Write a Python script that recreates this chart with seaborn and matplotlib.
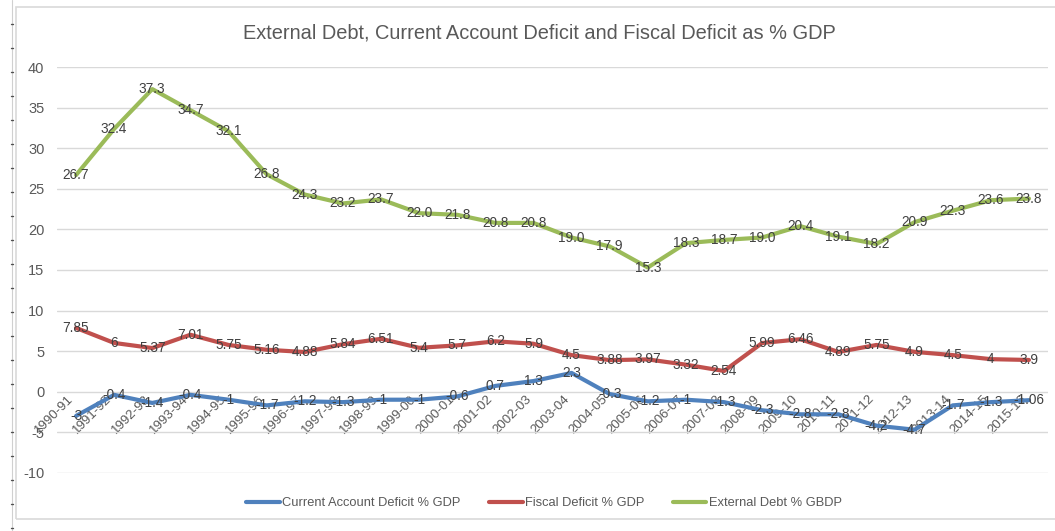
import matplotlib
matplotlib.use("Agg")
import matplotlib.pyplot as plt
from matplotlib.patches import Rectangle
from matplotlib.lines import Line2D
import seaborn as sns
import pandas as pd

# Fiscal years
years = ["1990-91", "1991-92", "1992-93", "1993-94", "1994-95", "1995-96",
         "1996-97", "1997-98", "1998-99", "1999-00", "2000-01", "2001-02",
         "2002-03", "2003-04", "2004-05", "2005-06", "2006-07", "2007-08",
         "2008-09", "2009-10", "2010-11", "2011-12", "2012-13", "2013-14",
         "2014-15", "2015-16"]

current_account = [-3, -0.4, -1.4, -0.4, -1, -1.7, -1.2, -1.3, -1, -1, -0.6,
                   0.7, 1.3, 2.3, -0.3, -1.2, -1, -1.3, -2.3, -2.8, -2.8,
                   -4.2, -4.7, -1.7, -1.3, -1.06]
current_account_labels = ["-3", "-0.4", "-1.4", "-0.4", "-1", "-1.7", "-1.2",
                          "-1.3", "-1", "-1", "-0.6", "0.7", "1.3", "2.3",
                          "-0.3", "-1.2", "-1", "-1.3", "-2.3", "-2.8", "-2.8",
                          "-4.2", "-4.7", "-1.7", "-1.3", "-1.06"]

fiscal = [7.85, 6, 5.37, 7.01, 5.75, 5.16, 4.88, 5.84, 6.51, 5.4, 5.7, 6.2,
          5.9, 4.5, 3.88, 3.97, 3.32, 2.54, 5.99, 6.46, 4.89, 5.75, 4.9, 4.5,
          4, 3.9]
fiscal_labels = ["7.85", "6", "5.37", "7.01", "5.75", "5.16", "4.88", "5.84",
                 "6.51", "5.4", "5.7", "6.2", "5.9", "4.5", "3.88", "3.97",
                 "3.32", "2.54", "5.99", "6.46", "4.89", "5.75", "4.9", "4.5",
                 "4", "3.9"]

external_debt = [26.7, 32.4, 37.3, 34.7, 32.1, 26.8, 24.3, 23.2, 23.7, 22.0,
                 21.8, 20.8, 20.8, 19.0, 17.9, 15.3, 18.3, 18.7, 19.0, 20.4,
                 19.1, 18.2, 20.9, 22.3, 23.6, 23.8]
external_debt_labels = [f"{v:.1f}" for v in external_debt]

series_names = ["Current Account Deficit % GDP", "Fiscal Deficit % GDP",
                "External Debt % GBDP"]
series_colors = ["#4F81BD", "#C0504D", "#9BBB59"]
y_ticks = [-10, -5, 0, 5, 10, 15, 20, 25, 30, 35, 40]

title = "External Debt, Current Account Deficit and Fiscal Deficit as % GDP"

# Long-form table for seaborn
positions = list(range(len(years)))
frames = []
for name, vals in zip(series_names,
                      [current_account, fiscal, external_debt]):
    frames.append(pd.DataFrame({"pos": positions, "value": vals,
                                "series": name}))
df = pd.concat(frames, ignore_index=True)

sns.set_theme(style="white")
plt.rcParams["font.family"] = ["Liberation Sans", "DejaVu Sans"]

W, H = 1055, 531
fig = plt.figure(figsize=(W / 100, H / 100), dpi=100)
fig.patch.set_facecolor("white")

# Chart frame and page ruler
fig.add_artist(Rectangle((16 / W, 1 - 519 / H), (W + 10 - 16) / W,
                         (519 - 7) / H, transform=fig.transFigure,
                         fill=False, edgecolor="#D9D9D9", linewidth=1.2))
fig.add_artist(Line2D([12 / W, 12 / W], [0, 1], transform=fig.transFigure,
                      color="#D0D0D0", linewidth=0.8))
for k in range(22):
    yy = 1 - (24 + k * 24) / H
    fig.add_artist(Line2D([11 / W, 13 / W], [yy, yy],
                          transform=fig.transFigure, color="#505050",
                          linewidth=1.0))

ax = fig.add_axes([57 / W, 1 - 472.7 / H, (1048 - 57) / W,
                   (472.7 - 67.2) / H])

sns.lineplot(data=df, x="pos", y="value", hue="series",
             hue_order=series_names, palette=series_colors, sort=False,
             linewidth=3.0, ax=ax, legend=False, zorder=3)

# Data labels centred on each point
for vals, labels in [(current_account, current_account_labels),
                     (fiscal, fiscal_labels),
                     (external_debt, external_debt_labels)]:
    for x, v, lab in zip(positions, vals, labels):
        ax.text(x, v, lab, ha="center", va="center", fontsize=9.8,
                color="#404040", zorder=5)

ax.set_xlim(-0.5, len(years) - 0.5)
ax.set_ylim(-10, 40)
ax.set_yticks(y_ticks)
ax.set_yticklabels([str(t) for t in y_ticks])
ax.yaxis.grid(True, color="#D9D9D9", linewidth=1.0, zorder=0)
ax.xaxis.grid(False)

# Category axis crosses at zero
ax.spines["bottom"].set_position(("data", 0))
for side in ["top", "right", "left", "bottom"]:
    ax.spines[side].set_visible(False)
ax.set_xticks(positions)
ax.set_xticklabels(years, rotation=45, ha="right", va="top")
ax.tick_params(axis="x", length=0, pad=1, labelsize=9.5,
               labelcolor="#595959")
ax.tick_params(axis="y", length=0, pad=9, labelsize=10.5,
               labelcolor="#595959")
ax.set_xlabel("")
ax.set_ylabel("")

fig.text(539 / W, 1 - 33 / H, title, ha="center", va="center",
         fontsize=14.4, color="#595959")

handles = [Line2D([], [], color=c, linewidth=3.0) for c in series_colors]
fig.legend(handles, series_names, loc="center",
           bbox_to_anchor=(544 / W, 1 - 503 / H), ncol=3, frameon=False,
           fontsize=9.3, handlelength=2.6, handletextpad=0.2,
           columnspacing=2.2, labelcolor="#595959")

fig.savefig("out.png", dpi=100, facecolor="white")
